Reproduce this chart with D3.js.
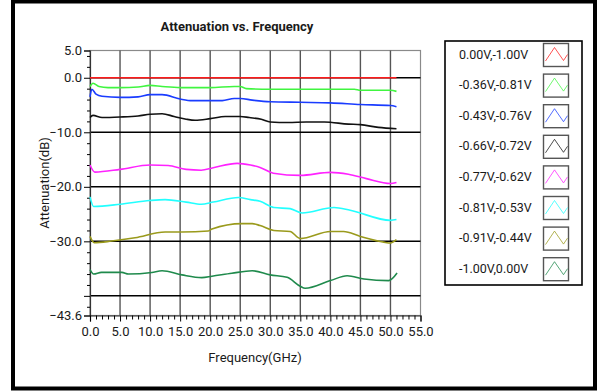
<!DOCTYPE html>
<html>
<head>
<meta charset="utf-8">
<script src="https://cdn.jsdelivr.net/npm/d3@7"></script>
<style>
  body { margin: 0; background: #fff; }
  svg text { font-family: Roboto, "Liberation Sans", sans-serif; fill: #1a1a1a; }
</style>
</head>
<body>
<div id="chart"></div>
<script>
// legend labels and colours
const seriesNames = ['0.00V,-1.00V', '-0.36V,-0.81V', '-0.43V,-0.76V', '-0.66V,-0.72V',
                     '-0.77V,-0.62V', '-0.81V,-0.53V', '-0.91V,-0.44V', '-1.00V,0.00V'];
const seriesColors = ['#ff1a1a', '#40f540', '#1a3cff', '#111111', '#ff22ff', '#22ffff', '#9a9a1c', '#1f8a4c'];

// frequency (GHz) / attenuation (dB) readings per trace
const redF = [0, 51];
const redDb = [0, 0];
const greenF = [0, 0.5, 1.5, 3, 5, 8, 10, 12, 15, 20, 24, 25, 26, 30, 35, 40, 44, 45, 50, 51];
const greenDb = [-1.6, -1.0, -1.6, -1.8, -1.8, -1.7, -1.4, -1.6, -1.8, -1.8, -1.6, -1.6, -2.0, -2.1, -2.1, -2.1, -2.1, -2.3, -2.3, -2.5];
const blueF = [0, 0.3, 1, 2, 5, 8, 10, 12, 15, 17, 22, 24, 25, 27, 30, 35, 40, 45, 50, 51];
const blueDb = [-3.5, -2.1, -3.0, -3.4, -3.6, -3.5, -3.1, -3.1, -3.9, -4.2, -4.2, -3.8, -3.8, -4.1, -4.4, -4.5, -4.6, -4.9, -5.1, -5.3];
const blackF = [0, 0.5, 2, 5, 8, 10, 12, 14, 16, 17.5, 20, 22.5, 25, 26.5, 28.5, 30, 33, 36, 39, 43, 45, 48, 51];
const blackDb = [-7.3, -6.9, -7.3, -7.2, -7.0, -6.7, -6.6, -7.1, -7.6, -7.8, -7.5, -7.1, -7.1, -7.3, -7.6, -8.1, -8.2, -8.1, -8.1, -8.5, -8.6, -9.1, -9.35];
const magentaF = [0, 0.8, 5, 10, 13, 16, 18.5, 20.5, 24.5, 26.7, 28.3, 30.5, 35, 40, 43, 46, 50, 51];
const magentaDb = [-16.0, -17.3, -16.8, -16.0, -16.1, -16.8, -16.95, -16.5, -15.7, -16.0, -16.45, -17.5, -17.9, -17.35, -17.7, -18.5, -19.4, -19.2];
const cyanF = [0, 0.6, 5, 10, 12.5, 16, 18.5, 20.5, 24.7, 26.7, 28.3, 30.6, 33.3, 35.3, 40.6, 43.3, 50, 51];
const cyanDb = [-21.85, -23.6, -23.2, -22.5, -22.35, -22.8, -23.2, -22.8, -21.95, -22.35, -22.65, -23.8, -24.0, -24.8, -23.8, -24.3, -26.15, -26.0];
const oliveF = [0, 0.7, 3.6, 7.5, 12.5, 15.3, 19.7, 20.3, 25.3, 27, 28.3, 30.6, 33.3, 35, 40, 42.2, 45, 48.9, 50, 51];
const oliveDb = [-29.1, -30.25, -29.95, -29.35, -28.3, -28.3, -28.1, -27.75, -26.75, -26.75, -27.1, -28.0, -28.2, -29.5, -28.2, -28.2, -29.1, -30.15, -30.3, -29.7];
const dkGreenF = [0, 0.6, 1.9, 5.3, 6.4, 10.3, 12, 15.3, 18.6, 20.3, 23.6, 27, 30, 32.8, 35, 35.8, 40, 42.8, 45.6, 49.7, 51.1];
const dkGreenDb = [-35.2, -36.0, -35.7, -35.7, -36.0, -35.7, -35.4, -36.15, -36.65, -36.4, -35.85, -35.4, -36.15, -36.6, -38.25, -38.6, -37.2, -36.3, -36.9, -37.2, -35.8];

// axis ticks
const xTicks = [0, 5, 10, 15, 20, 25, 30, 35, 40, 45, 50, 55];
const yTicks = [5, 0, -10, -20, -30, -40, -43.6];
const yLabelled = [5, 0, -10, -20, -30, -43.6];
const yGrid = [0, -10, -20, -30, -40];

const traces = [
  [redF, redDb], [greenF, greenDb], [blueF, blueDb], [blackF, blackDb],
  [magentaF, magentaDb], [cyanF, cyanDb], [oliveF, oliveDb], [dkGreenF, dkGreenDb]
].map((t, i) => ({ name: seriesNames[i], color: seriesColors[i], values: t[0].map((f, j) => ({ f: f, db: t[1][j] })) }));

const W = 602, H = 392;
const svg = d3.select('#chart').append('svg').attr('width', W).attr('height', H);

// outer frame
svg.append('rect')
  .attr('x', 13).attr('y', 1.5).attr('width', 582).attr('height', 387)
  .attr('fill', 'none').attr('stroke', '#000').attr('stroke-width', 4);

// scales
const x = d3.scaleLinear().domain([0, 55]).range([90, 420.5]);
const y = d3.scaleLinear().domain([5, -43.6]).range([50.5, 315.5]);

// plot background and border
svg.append('rect')
  .attr('x', x(0)).attr('y', y(5)).attr('width', x(55) - x(0)).attr('height', y(-43.6) - y(5))
  .attr('fill', '#fff').attr('stroke', '#8a8a8a').attr('stroke-width', 1.2);

// vertical grid
svg.append('g').selectAll('line')
  .data(xTicks.filter(d => d > 0 && d < 55))
  .join('line')
  .attr('x1', d => x(d)).attr('x2', d => x(d))
  .attr('y1', y(5)).attr('y2', y(-43.6))
  .attr('stroke', '#555').attr('stroke-width', 1.4);

// horizontal grid
svg.append('g').selectAll('line')
  .data(yGrid)
  .join('line')
  .attr('x1', x(0)).attr('x2', x(55))
  .attr('y1', d => y(d)).attr('y2', d => y(d))
  .attr('stroke', '#000').attr('stroke-width', 1.5);

// y axis
const yAxis = d3.axisLeft(y).tickValues(yTicks).tickSize(6).tickPadding(2)
  .tickFormat(d => yLabelled.includes(d) ? d3.format('.1f')(d) : '');
const yAxisG = svg.append('g').attr('transform', `translate(${x(0)},0)`).call(yAxis);
yAxisG.selectAll('text').style('font-size', '13px');
yAxisG.select('.domain').attr('stroke', '#333').attr('stroke-width', 1.2);

const yMinor = d3.range(4, -43, -2).filter(d => d % 10 !== 0);
svg.append('g').attr('transform', `translate(${x(0)},0)`)
  .call(d3.axisLeft(y).tickValues(yMinor).tickSize(3).tickFormat(''))
  .call(g => g.select('.domain').remove());

// x axis
const xAxis = d3.axisBottom(x).tickValues(xTicks).tickSize(6).tickPadding(5).tickFormat(d3.format('.1f'));
const xAxisG = svg.append('g').attr('transform', `translate(0,${y(-43.6)})`).call(xAxis);
xAxisG.selectAll('text').style('font-size', '13px');
xAxisG.select('.domain').attr('stroke', '#333').attr('stroke-width', 1.2);

const xMinor = d3.range(1, 55, 1).filter(d => d % 5 !== 0);
svg.append('g').attr('transform', `translate(0,${y(-43.6)})`)
  .call(d3.axisBottom(x).tickValues(xMinor).tickSize(4).tickFormat(''))
  .call(g => g.select('.domain').remove());

// traces
svg.append('g').selectAll('path')
  .data(traces)
  .join('path')
  .attr('d', d => d3.line().x(p => x(p.f)).y(p => y(p.db)).curve(d3.curveMonotoneX)(d.values))
  .attr('fill', 'none')
  .attr('stroke', d => d.color)
  .attr('stroke-width', 1.6);

// titles
svg.append('text')
  .attr('x', 237).attr('y', 31)
  .attr('text-anchor', 'middle')
  .style('font-size', '13px').style('font-weight', 'bold')
  .text('Attenuation vs. Frequency');

svg.append('text')
  .attr('x', 255).attr('y', 362)
  .attr('text-anchor', 'middle')
  .style('font-size', '13px')
  .text('Frequency(GHz)');

svg.append('text')
  .attr('transform', 'translate(49,183) rotate(-90)')
  .attr('text-anchor', 'middle')
  .style('font-size', '13px')
  .text('Attenuation(dB)');

// legend
const legend = svg.append('g');
legend.append('rect')
  .attr('x', 445).attr('y', 41).attr('width', 137).attr('height', 244)
  .attr('fill', '#fff').attr('stroke', '#000').attr('stroke-width', 1.6);

const item = legend.selectAll('g.item')
  .data(traces)
  .join('g')
  .attr('class', 'item')
  .attr('transform', (d, i) => `translate(0,${i * 30.6})`);

item.append('text')
  .attr('x', 459).attr('y', 58.5)
  .style('font-size', '12.5px')
  .text(d => d.name);

item.append('rect')
  .attr('x', 543.5).attr('y', 43.5).attr('width', 25).attr('height', 23)
  .attr('fill', '#fff').attr('stroke', '#555').attr('stroke-width', 1.4);

item.append('path')
  .attr('d', 'M545.5,61 L554.5,47.5 L563.5,60.5 L567.5,54.5')
  .attr('fill', 'none')
  .attr('stroke', d => d.color)
  .attr('stroke-opacity', 0.75)
  .attr('stroke-width', 1);
</script>
</body>
</html>
